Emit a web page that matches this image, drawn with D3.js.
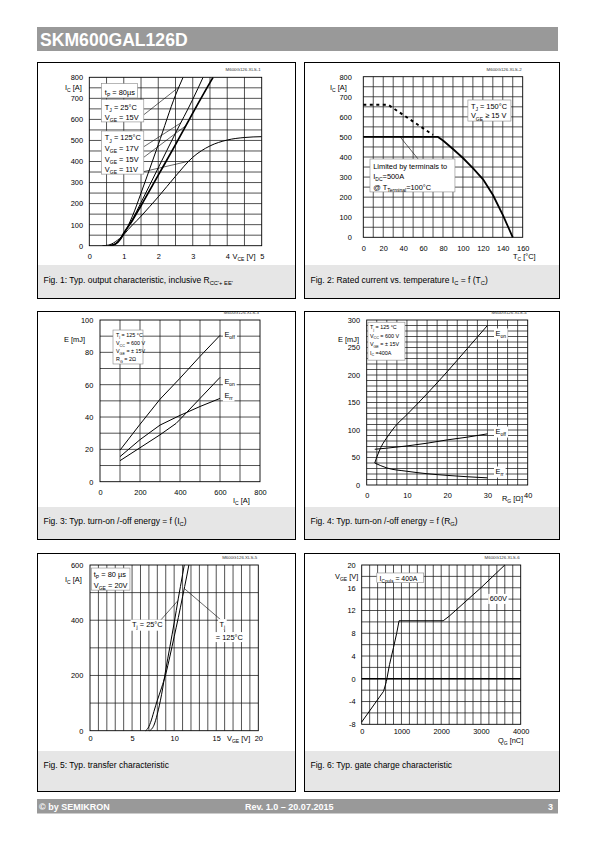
<!DOCTYPE html>
<html><head><meta charset="utf-8">
<script src="https://cdn.jsdelivr.net/npm/d3@7"></script>
<style>body{margin:0;background:#fff}svg{display:block}</style>
</head><body><script>
// ---------------- DATA ----------------
const headerTitle = "SKM600GAL126D";
const footerLeft = "© by SEMIKRON";
const footerMid = "Rev. 1.0 – 20.07.2015";
const footerRight = "3";

// Fig 1: output characteristic  [VCE (V), IC (A)]
const fig1XTicks = [0,1,2,3,4,5];
const fig1YTicks = [0,100,200,300,400,500,600,700,800];
const fig1_25C_15V  = [[0.38,0],[0.55,3],[0.75,18],[1.0,58],[1.25,140],[1.5,250],[2.0,480],[2.5,715],[2.72,800]];
const fig1_125C_17V = [[0.55,0],[0.7,5],[0.85,24],[1.0,58],[1.25,125],[1.5,205],[2.0,370],[2.5,535],[3.0,695],[3.3,800]];
const fig1_125C_15V = [[0.6,0],[0.75,7],[0.9,30],[1.0,60],[1.25,120],[1.5,190],[2.0,335],[2.5,480],[3.0,630],[3.5,775],[3.59,800]];
const fig1_125C_11V = [[0.6,0],[0.75,7],[0.9,30],[1.0,52],[1.5,140],[2.0,232],[2.5,330],[3.0,420],[3.5,474],[4.0,502],[4.5,514],[5.0,518]];

// Fig 2: rated current vs temperature [TC (°C), IC (A)]
const fig2XTicks = [0,20,40,60,80,100,120,140,160];
const fig2YTicks = [0,100,200,300,400,500,600,700,800];
const fig2_chipLimit = [[0,660],[25,660],[70,510]];
const fig2_rated = [[0,500],[75,500],[80,482],[90,440],[100,395],[110,345],[120,290],[130,212],[140,112],[150,0]];

// Fig 3: switching energy vs IC [IC (A), E (mJ)]
const fig3XTicks = [0,200,400,600,800];
const fig3YTicks = [0,20,40,60,80,100];
const fig3_Eoff = [[100,19.5],[200,35.5],[300,51],[400,64],[500,77.5],[600,90.5]];
const fig3_Eon  = [[100,13],[200,21],[300,29],[380,36],[400,38.5],[500,51.5],[600,64.5]];
const fig3_Err  = [[100,15.5],[200,26],[300,35],[400,41],[500,46.5],[600,51.5]];

// Fig 4: switching energy vs RG [RG (Ohm), E (mJ)]
const fig4XTicks = [0,10,20,30,40];
const fig4YTicks = [0,50,100,150,200,250,300];
const fig4_Eon  = [[2,40],[3,60],[4,75],[5,86],[7,106],[10,128],[15,166],[20,206],[25,248],[30,290]];
const fig4_Eoff = [[2,65],[5,67],[10,71],[15,76],[20,82],[25,87],[30,93]];
const fig4_Err  = [[2,40],[5,31],[10,25],[15,20.5],[20,17.5],[25,15],[30,13]];

// Fig 5: transfer characteristic [VGE (V), IC (A)]
const fig5XTicks = [0,5,10,15,20];
const fig5YTicks = [0,200,400,600];
const fig5_25C  = [[7.1,0],[7.3,5],[7.6,20],[8.0,60],[8.5,130],[9.0,220],[9.5,305],[10.0,390],[10.5,480],[11.0,565],[11.2,600]];
const fig5_125C = [[6.6,0],[6.8,5],[7.2,30],[7.6,70],[8.0,110],[8.5,155],[9.0,205],[9.5,270],[10.0,340],[10.5,410],[11.0,485],[11.5,560],[11.75,600]];

// Fig 6: gate charge [QG (nC), VGE (V)]
const fig6XTicks = [0,1000,2000,3000,4000];
const fig6YTicks = [-8,-4,0,4,8,12,16,20];
const fig6_gate = [[0,-7.6],[550,-2.2],[620,-0.5],[700,2.5],[800,5.5],[880,8],[940,10.2],[2050,10.2],[2200,11],[3000,16],[3600,20]];

// ---------------- DRAWING ----------------
const FONT = '"Liberation Sans", Arial, Helvetica, sans-serif';
const svg = d3.select('body').append('svg').attr('width',595).attr('height',842).style('font-family',FONT);

function rich(g,x,y,parts,size,anchor,fill,weight){
  const t=g.append('text').attr('x',x).attr('y',y).attr('font-size',size)
    .attr('text-anchor',anchor||'start').attr('fill',fill||'#000').attr('font-weight',weight||'normal');
  let cur=0;
  parts.forEach(p=>{
    let s,k; if(typeof p==='string'){s=p;k='n';}else{s=p[0];k=p[1];}
    const target = k==='sub'? size*0.28 : 0;
    const ts=t.append('tspan').text(s);
    if(k==='sub') ts.attr('font-size',size*0.68);
    if(target!==cur){ ts.attr('dy',target-cur); cur=target; }
  });
  return t;
}

function panel(x0,y0,x1,y1,capTop,capBase,capParts){
  svg.append('rect').attr('x',x0+.5).attr('y',y0+.5).attr('width',x1-x0).attr('height',y1-y0)
    .attr('fill','#fff').attr('stroke','#000').attr('stroke-width',1);
  svg.append('rect').attr('x',x0+1).attr('y',capTop).attr('width',x1-x0-1).attr('height',y1-capTop).attr('fill','#e6e6e6');
  rich(svg,x0+6.5,capBase,capParts,8.5);
}

function plot(c){
  const g=svg.append('g');
  const x=d3.scaleLinear().domain(c.xd).range(c.xr);
  const y=d3.scaleLinear().domain(c.yd).range(c.yr);
  g.selectAll('line.gv').data(c.xGrid).join('line').attr('class','gv')
    .attr('x1',d=>x(d)).attr('x2',d=>x(d)).attr('y1',c.yr[0]).attr('y2',c.yr[1])
    .attr('stroke','#1a1a1a').attr('stroke-width',0.75);
  g.selectAll('line.gh').data(c.yGrid).join('line').attr('class','gh')
    .attr('y1',d=>y(d)).attr('y2',d=>y(d)).attr('x1',c.xr[0]).attr('x2',c.xr[1])
    .attr('stroke','#1a1a1a').attr('stroke-width',0.75);
  g.append('rect').attr('x',c.xr[0]).attr('y',c.yr[1]).attr('width',c.xr[1]-c.xr[0]).attr('height',c.yr[0]-c.yr[1])
    .attr('fill','none').attr('stroke','#000').attr('stroke-width',0.9);
  // axes
  const ax=g.append('g').attr('transform',`translate(0,${c.yr[0]})`)
    .call(d3.axisBottom(x).tickValues(c.xTicks).tickSize(0).tickPadding(c.xPad).tickFormat(d=>String(d)));
  const ay=g.append('g').attr('transform',`translate(${c.xr[0]},0)`)
    .call(d3.axisLeft(y).tickValues(c.yTicks).tickSize(0).tickPadding(c.yPad).tickFormat(d=>String(d)));
  [ax,ay].forEach(a=>{a.select('.domain').remove(); a.attr('font-family',FONT).attr('font-size',7.4);
    a.selectAll('text').attr('fill','#000');});
  // watermark
  g.append('text').attr('x',c.xr[1]-1).attr('y',c.yr[1]-6).attr('text-anchor','end')
    .attr('font-size',4.4).attr('fill','#333').text(c.mark);
  return {g,x,y};
}

function curve(p,data,opt){
  opt=opt||{};
  const line=d3.line().x(d=>p.x(d[0])).y(d=>p.y(d[1])).curve(opt.smooth?d3.curveMonotoneX:d3.curveLinear);
  return p.g.append('path').attr('d',line(data)).attr('fill','none').attr('stroke','#000')
    .attr('stroke-width',opt.w||1).attr('stroke-dasharray',opt.dash||null).attr('stroke-linejoin','round');
}
function at(data,xv){
  for(let i=1;i<data.length;i++){ if(xv<=data[i][0]){const a=data[i-1],b=data[i];return a[1]+(b[1]-a[1])*(xv-a[0])/(b[0]-a[0]);} }
  return data[data.length-1][1];
}
function seg(p,x1,y1,x2,y2,w){
  p.g.append('line').attr('x1',p.x(x1)).attr('y1',p.y(y1)).attr('x2',p.x(x2)).attr('y2',p.y(y2))
    .attr('stroke','#000').attr('stroke-width',w||0.6);
}
function box(p,xa,ya,xb,yb,stroke){
  p.g.append('rect').attr('x',p.x(xa)).attr('y',p.y(ya)).attr('width',p.x(xb)-p.x(xa)).attr('height',p.y(yb)-p.y(ya))
    .attr('fill','#fff').attr('stroke',stroke===undefined?'#888':stroke).attr('stroke-width',0.6);
}
function bgLabel(p,xv,yv,parts,size){
  const t=rich(p.g,p.x(xv),p.y(yv),parts,size);
  const bb=t.node().getBBox();
  p.g.insert('rect',()=>t.node()).attr('x',bb.x-1.5).attr('y',bb.y-0.5).attr('width',bb.width+3).attr('height',bb.height+1).attr('fill','#fff');
  return t;
}

// header / footer
svg.append('rect').attr('x',37).attr('y',27).attr('width',521).attr('height',24).attr('fill','#999');
svg.append('text').attr('x',40).attr('y',45.5).attr('fill','#fff').attr('font-weight','bold').attr('font-size',17.6).text(headerTitle);
svg.append('rect').attr('x',37).attr('y',799).attr('width',521).attr('height',14.5).attr('fill','#999');
svg.append('text').attr('x',39).attr('y',809.5).attr('fill','#fff').attr('font-weight','bold').attr('font-size',9).text(footerLeft);
svg.append('text').attr('x',245).attr('y',809.5).attr('fill','#fff').attr('font-weight','bold').attr('font-size',9).text(footerMid);
svg.append('text').attr('x',553).attr('y',809.5).attr('text-anchor','end').attr('fill','#fff').attr('font-weight','bold').attr('font-size',9).text(footerRight);

// panels
panel(37,62,295,298,265,283,["Fig. 1: Typ. output characteristic, inclusive R",["CC'+ EE'","sub"]]);
panel(304,62,559,298,265,283,["Fig. 2: Rated current vs. temperature I",["C","sub"]," = f (T",["C","sub"],")"]);
panel(37,311,295,539,507,524,["Fig. 3: Typ. turn-on /-off energy = f (I",["C","sub"],")"]);
panel(304,311,559,539,507,524,["Fig. 4: Typ. turn-on /-off energy = f (R",["G","sub"],")"]);
panel(37,553,295,791,751,768,["Fig. 5: Typ. transfer characteristic"]);
panel(304,553,559,791,751,768,["Fig. 6: Typ. gate charge characteristic"]);

// ---- Fig 1
{
  const p=plot({xd:[0,5],xr:[89.3,261.7],yd:[0,800],yr:[245.7,77.3],xGrid:d3.range(0.5,5,0.5),yGrid:d3.range(50,800,50),
    xTicks:fig1XTicks,yTicks:fig1YTicks,xPad:8.3,yPad:6.3,mark:"M600G126.XLS-1"});
  p.g.append('defs').append('clipPath').attr('id','c1').append('rect').attr('x',89.3).attr('y',77.3).attr('width',172.4).attr('height',168.4);
  const cg={g:p.g.append('g').attr('clip-path','url(#c1)'),x:p.x,y:p.y};
  curve(cg,fig1_25C_15V,{smooth:true});
  curve(cg,fig1_125C_17V,{smooth:true});
  curve(cg,fig1_125C_15V,{smooth:true,w:1.7});
  curve(cg,fig1_125C_11V,{smooth:true});
  // callouts
  seg(p,1.58,622,2.6,at(fig1_25C_15V,2.6));
  seg(p,1.58,470,2.65,at(fig1_125C_17V,2.65));
  seg(p,1.58,420,2.8,at(fig1_125C_15V,2.8));
  seg(p,1.58,352,2.9,at(fig1_125C_11V,2.9));
  // boxes
  box(p,0.35,770,1.4,702);
  rich(p.g,p.x(0.45),p.y(716),["t",["P","sub"]," = 80µs"],7.4);
  box(p,0.35,694,1.58,588);
  rich(p.g,p.x(0.45),p.y(646),["T",["J","sub"]," = 25°C"],7.4);
  rich(p.g,p.x(0.45),p.y(598),["V",["GE","sub"]," = 15V"],7.4);
  box(p,0.35,545,1.58,340);
  rich(p.g,p.x(0.45),p.y(500),["T",["J","sub"]," = 125°C"],7.4);
  rich(p.g,p.x(0.45),p.y(450),["V",["GE","sub"]," = 17V"],7.4);
  rich(p.g,p.x(0.45),p.y(400),["V",["GE","sub"]," = 15V"],7.4);
  rich(p.g,p.x(0.45),p.y(351),["V",["GE","sub"]," = 11V"],7.4);
  // axis titles
  rich(p.g,65,90,["I",["C","sub"]," [A]"],7.4);
  rich(p.g,232.5,259.3,["V",["CE","sub"]," [V]"],7.4);
}

// ---- Fig 2
{
  const p=plot({xd:[0,160],xr:[363.3,522.7],yd:[0,800],yr:[237.3,76.7],xGrid:d3.range(10,160,10),yGrid:d3.range(50,800,50),
    xTicks:fig2XTicks,yTicks:fig2YTicks,xPad:8.4,yPad:11.5,mark:"M600G126.XLS-2"});
  curve(p,fig2_chipLimit,{w:2,dash:"3,3.5"});
  curve(p,fig2_rated,{w:1.8});
  seg(p,37,500,55,390);
  box(p,6.7,390,92,226);
  rich(p.g,p.x(10),p.y(340),["Limited by terminals to"],7.4);
  rich(p.g,p.x(10),p.y(290),["I",["DC","sub"],"=500A"],7.4);
  rich(p.g,p.x(10),p.y(238),["@ T",["Terminal","sub"],"=100°C"],7.4);
  box(p,105,684,148.2,579);
  rich(p.g,p.x(108),p.y(637),["T",["J","sub"]," = 150°C"],7.4);
  rich(p.g,p.x(108),p.y(592),["V",["GE","sub"]," ≥ 15 V"],7.4);
  rich(p.g,330,90,["I",["C","sub"]," [A]"],7.4);
  rich(p.g,513,259,["T",["C","sub"]," [°C]"],7.4);
}

// ---- Fig 3
{
  const p=plot({xd:[0,800],xr:[100,260],yd:[0,100],yr:[481.7,320],xGrid:d3.range(100,800,100),yGrid:d3.range(10,100,10),
    xTicks:fig3XTicks,yTicks:fig3YTicks,xPad:8.4,yPad:6.7,mark:"M600G126.XLS-3"});
  curve(p,fig3_Eoff);
  curve(p,fig3_Eon);
  curve(p,fig3_Err);
  bgLabel(p,622,89.5,["E",["off","sub"]],7.4);
  bgLabel(p,622,60.7,["E",["on","sub"]],7.4);
  bgLabel(p,622,51.8,["E",["rr","sub"]],7.4);
  box(p,65,93.8,215,72.8);
  rich(p.g,p.x(80),p.y(89.5),["T",["j","sub"],"    = 125 °C"],5.4);
  rich(p.g,p.x(80),p.y(84.5),["V",["CC","sub"]," = 600 V"],5.4);
  rich(p.g,p.x(80),p.y(79.5),["V",["GE","sub"]," = ± 15V"],5.4);
  rich(p.g,p.x(80),p.y(74.6),["R",["G","sub"]," = 2Ω"],5.4);
  rich(p.g,64,342,["E [mJ]"],7.4);
  rich(p.g,233,502.5,["I",["C","sub"]," [A]"],7.4);
}

// ---- Fig 4
{
  const p=plot({xd:[0,40],xr:[366.7,527.7],yd:[0,300],yr:[485,320],xGrid:d3.range(2.5,40,2.5),yGrid:d3.range(10,300,10),
    xTicks:fig4XTicks,yTicks:fig4YTicks,xPad:8,yPad:6.7,mark:"M600G126.XLS-4"});
  curve(p,fig4_Eon,{smooth:true});
  curve(p,fig4_Eoff,{smooth:true});
  curve(p,fig4_Err,{smooth:true});
  bgLabel(p,32,271,["E",["on","sub"]],7.4);
  bgLabel(p,32,92.7,["E",["off","sub"]],7.4);
  bgLabel(p,32,20,["E",["rr","sub"]],7.4);
  box(p,0.3,296,9.5,227);
  rich(p.g,p.x(0.8),p.y(283.6),["T",["j","sub"],"    = 125 °C"],5.4);
  rich(p.g,p.x(0.8),p.y(268),["V",["CC","sub"]," = 600 V"],5.4);
  rich(p.g,p.x(0.8),p.y(252.7),["V",["GE","sub"]," = ± 15V"],5.4);
  rich(p.g,p.x(0.8),p.y(237),["I",["C","sub"]," =400A"],5.4);
  rich(p.g,338,342,["E [mJ]"],7.4);
  rich(p.g,502,500.5,["R",["G","sub"]," [Ω]"],7.4);
}

// ---- Fig 5
{
  const p=plot({xd:[0,20],xr:[90,258.3],yd:[0,600],yr:[730.7,565],xGrid:d3.range(1,20,1),yGrid:d3.range(100,600,100),
    xTicks:fig5XTicks,yTicks:fig5YTicks,xPad:5,yPad:6.7,mark:"M600G126.XLS-5"});
  curve(p,fig5_25C,{smooth:true});
  curve(p,fig5_125C,{smooth:true});
  seg(p,8.1,390,10.45,at(fig5_25C,10.45));
  seg(p,15.6,400,11.2,at(fig5_125C,11.2));
  box(p,0.2,589,4.75,509);
  rich(p.g,p.x(0.45),p.y(556),["t",["P","sub"]," = 80 µs"],7.4);
  rich(p.g,p.x(0.45),p.y(518),["V",["GE","sub"]," = 20V"],7.4);
  bgLabel(p,5.0,375,["T",["j","sub"]," = 25°C"],7.4);
  bgLabel(p,15.4,377,["T",["j","sub"]],7.4);
  bgLabel(p,14.95,330,["= 125°C"],7.4);
  rich(p.g,65,582,["I",["C","sub"]," [A]"],7.4);
  rich(p.g,227,741,["V",["GE","sub"]," [V]"],7.4);
}

// ---- Fig 6
{
  const p=plot({xd:[0,4000],xr:[361.7,520.7],yd:[-8,20],yr:[724.3,565],xGrid:d3.range(200,4000,200),yGrid:d3.range(-6,20,2),
    xTicks:fig6XTicks,yTicks:fig6YTicks,xPad:4.7,yPad:6,mark:"M600G126.XLS-6"});
  seg(p,0,0,4000,0,1.6);
  curve(p,fig6_gate);
  box(p,380,18.6,1560,16.9);
  rich(p.g,p.x(450),p.y(17.25),["I",["Cpuls","sub"]," = 400A"],6.9);
  bgLabel(p,3220,13.6,["600V"],7.4);
  rich(p.g,335,579,["V",["GE","sub"]," [V]"],7.4);
  rich(p.g,498,743,["Q",["G","sub"]," [nC]"],7.4);
}
</script></body></html>
